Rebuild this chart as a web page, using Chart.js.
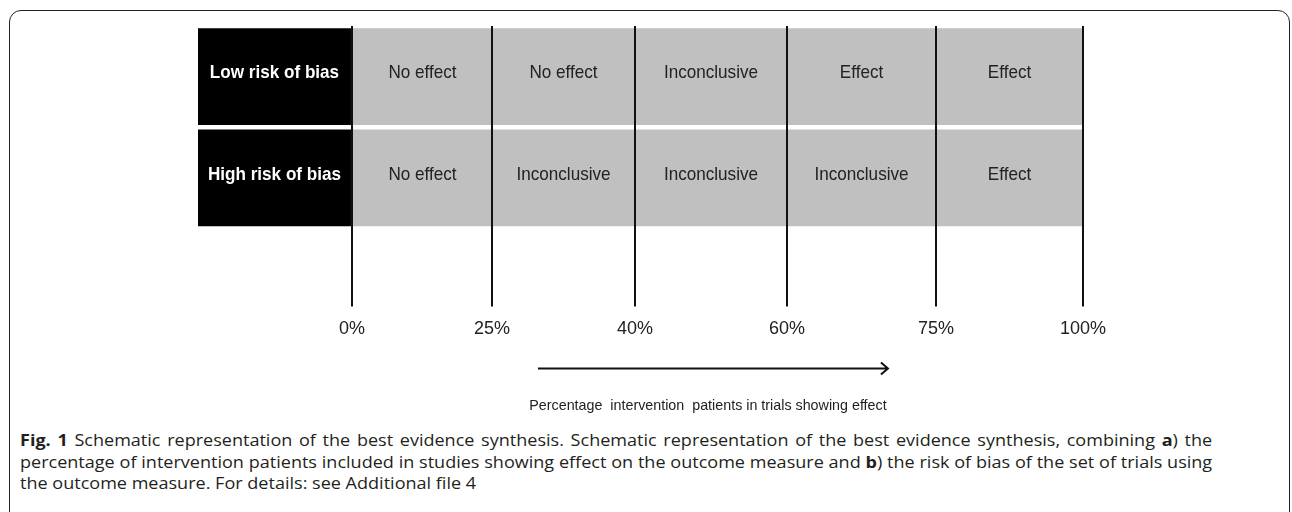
<!DOCTYPE html>
<html>
<head>
<meta charset="utf-8">
<script src="https://cdn.jsdelivr.net/npm/chart.js@4"></script>
<style>
  html, body { margin: 0; padding: 0; background: #fff; }
  body { width: 1292px; height: 512px; position: relative; overflow: hidden; }
  #frame { position: absolute; left: 9px; top: 10px; width: 1281px; height: 530px; border: 1.5px solid #222; border-radius: 12px; box-sizing: border-box; }
  #wrap { position: absolute; left: 0; top: 0; width: 1292px; height: 420px; }
  #caption { position: absolute; left: 20px; top: 429px; width: 1109px; font-family: "Open Sans", sans-serif; font-size: 16.8px; line-height: 21.5px; color: #231f20; white-space: nowrap; transform: scaleX(1.075); transform-origin: 0 0; }
  #caption .full { text-align: justify; text-align-last: justify; }
</style>
</head>
<body>
<div id="frame"></div>
<div id="wrap"><canvas id="schema" width="1292" height="420"></canvas></div>
<div id="caption">
  <div class="full"><b>Fig. 1</b> Schematic representation of the best evidence synthesis. Schematic representation of the best evidence synthesis, combining <b>a</b>) the</div>
  <div class="full">percentage of intervention patients included in studies showing effect on the outcome measure and <b>b</b>) the risk of bias of the set of trials using</div>
  <div>the outcome measure. For details: see Additional file 4</div>
</div>
<script>
// rows (risk of bias) and the verdict in each band of the percentage axis
const rowLabels = ['Low risk of bias', 'High risk of bias'];
const tickLabels = ['0%', '25%', '40%', '60%', '75%', '100%'];
// where each tick sits on the schematic axis (the bands are drawn roughly, not to scale)
const bandEdges = [0, 0.958, 1.936, 2.975, 3.995, 5];
const lowRiskCells = ['No effect', 'No effect', 'Inconclusive', 'Effect', 'Effect'];
const highRiskCells = ['No effect', 'Inconclusive', 'Inconclusive', 'Inconclusive', 'Effect'];
const axisTitle = 'Percentage  intervention  patients in trials showing effect';

const labelSpan = 1.053; // width of the black label column, in axis units
const arrowFrom = 1.272;
const arrowTo = 3.666;
const titleAt = 2.435;

const datasets = [];
// black label column left of 0%
datasets.push({
  data: rowLabels.map(() => [-labelSpan, 0]),
  backgroundColor: '#000',
  cellLabels: rowLabels,
  labelFont: 'bold 19px "Liberation Sans", Arial, sans-serif',
  labelColor: '#fff'
});
// one dataset per band between two ticks
for (let i = 0; i < bandEdges.length - 1; i++) {
  datasets.push({
    data: rowLabels.map(() => [bandEdges[i], bandEdges[i + 1]]),
    backgroundColor: '#c0c0c0',
    cellLabels: [lowRiskCells[i], highRiskCells[i]],
    labelFont: '19px "Liberation Sans", Arial, sans-serif',
    labelColor: '#222'
  });
}

// cell texts, a bit condensed like the original artwork
const cellText = {
  id: 'cellText',
  afterDatasetsDraw(chart) {
    const ctx = chart.ctx;
    chart.data.datasets.forEach((ds, i) => {
      chart.getDatasetMeta(i).data.forEach((bar, j) => {
        ctx.save();
        ctx.translate((bar.x + bar.base) / 2, bar.y - 3.5);
        ctx.scale(0.9, 1);
        ctx.textAlign = 'center';
        ctx.textBaseline = 'middle';
        ctx.font = ds.labelFont;
        ctx.fillStyle = ds.labelColor;
        ctx.fillText(ds.cellLabels[j], 0, 0);
        ctx.restore();
      });
    });
  }
};

const arrowTitle = {
  id: 'arrowTitle',
  afterDraw(chart) {
    const ctx = chart.ctx;
    const xs = chart.scales.x;
    const y = xs.top + 140;
    const x0 = xs.getPixelForValue(arrowFrom);
    const x1 = xs.getPixelForValue(arrowTo);
    ctx.save();
    ctx.strokeStyle = '#111';
    ctx.lineWidth = 2;
    ctx.beginPath();
    ctx.moveTo(x0, y);
    ctx.lineTo(x1, y);
    ctx.moveTo(x1 - 7, y - 6);
    ctx.lineTo(x1, y);
    ctx.lineTo(x1 - 7, y + 6);
    ctx.stroke();
    ctx.font = '14.3px "Liberation Sans", Arial, sans-serif';
    ctx.fillStyle = '#222';
    ctx.textAlign = 'center';
    ctx.textBaseline = 'middle';
    ctx.fillText(axisTitle, xs.getPixelForValue(titleAt), xs.top + 178);
    ctx.restore();
  }
};

const ctx = document.getElementById('schema').getContext('2d');
const chart = new Chart(ctx, {
  type: 'bar',
  data: { labels: rowLabels, datasets: datasets },
  options: {
    indexAxis: 'y',
    responsive: false,
    animation: false,
    grouped: false,
    barPercentage: 0.956,
    categoryPercentage: 1.0,
    borderWidth: 0,
    layout: { padding: { left: 198, right: 209, top: 26, bottom: 68 } },
    plugins: { legend: { display: false }, tooltip: { enabled: false } },
    scales: {
      y: { display: false },
      x: {
        type: 'linear',
        min: -labelSpan,
        max: bandEdges[bandEdges.length - 1],
        afterBuildTicks: (scale) => {
          scale.ticks = bandEdges.map((v) => ({ value: v }));
        },
        ticks: {
          autoSkip: false,
          maxRotation: 0,
          padding: 12,
          color: '#222',
          font: { family: '"Liberation Sans", Arial, sans-serif', size: 18 },
          callback: (v, i) => tickLabels[i]
        },
        grid: { color: '#111', lineWidth: 2, tickLength: 78, drawTicks: true, z: 1 },
        border: { display: false }
      }
    }
  },
  plugins: [cellText, arrowTitle]
});
</script>
</body>
</html>
